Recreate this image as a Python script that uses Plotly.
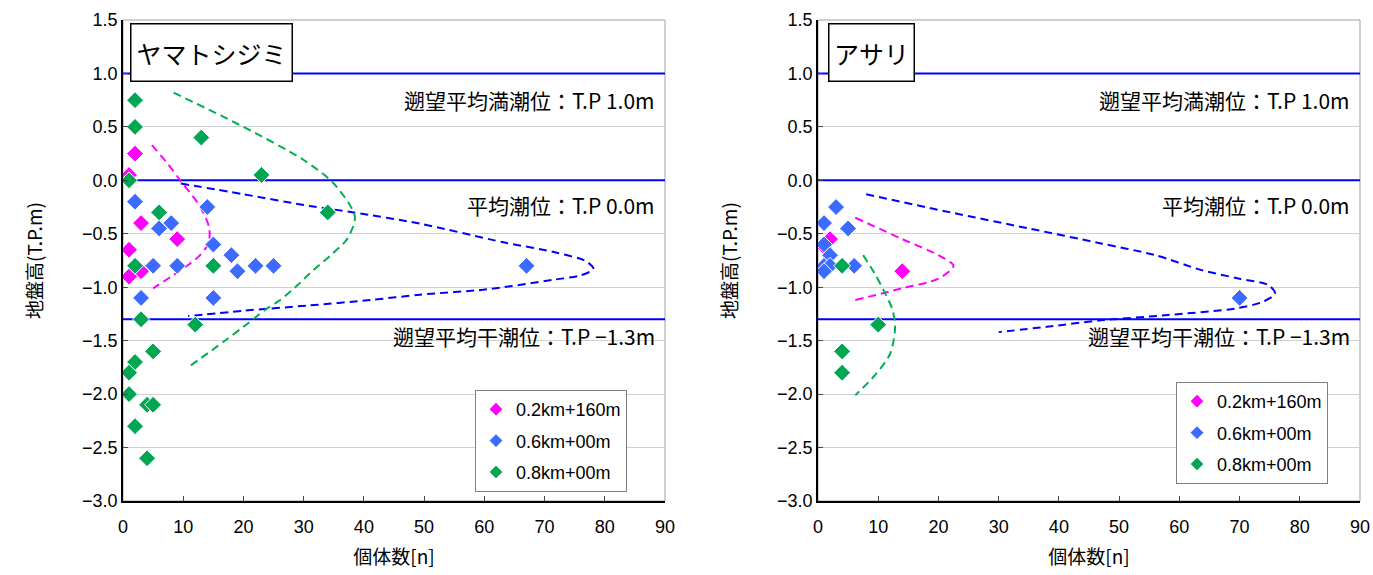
import plotly.graph_objects as go

# ---------------- data ----------------
series_names = ["0.2km+160m", "0.6km+00m", "0.8km+00m"]
panel_titles = ["ヤマトシジミ", "アサリ"]

# Left panel (ヤマトシジミ) observed points: count, elevation
L_mag_x = [2, 1, 3, 9, 1, 3, 1]
L_mag_y = [0.25, 0.05, -0.4, -0.55, -0.65, -0.85, -0.9]
L_blu_x = [2, 14, 6, 8, 15, 18, 5, 9, 19, 22, 25, 67, 3, 15]
L_blu_y = [-0.2, -0.25, -0.45, -0.4, -0.6, -0.7, -0.8, -0.8, -0.85, -0.8, -0.8, -0.8, -1.1, -1.1]
L_grn_x = [2, 2, 13, 23, 1, 6, 34, 2, 15, 3, 12, 5, 2, 1, 1, 4, 5, 2, 4]
L_grn_y = [0.75, 0.5, 0.4, 0.05, 0.0, -0.3, -0.3, -0.8, -0.8, -1.3, -1.35, -1.6, -1.7, -1.8, -2.0, -2.1, -2.1, -2.3, -2.6]

# Left panel fitted curves
L_mag_cx = [4.8, 7.5, 9.5, 12.5, 14.3, 14.2, 12.8, 11.1, 8.0, 5.0]
L_mag_cy = [0.33, 0.15, 0.0, -0.22, -0.44, -0.59, -0.70, -0.78, -0.90, -1.01]
L_blu_cx = [9.6, 20, 31, 38.3, 49.3, 63.2, 71.5, 77, 78.1, 75.9, 71.5, 60.4, 49.3, 41, 31, 20, 10.8]
L_blu_cy = [-0.03, -0.13, -0.24, -0.30, -0.405, -0.58, -0.67, -0.76, -0.83, -0.89, -0.93, -1.02, -1.07, -1.12, -1.17, -1.22, -1.27]
L_grn_cx = [8.4, 20, 30, 35, 38.5, 37.2, 34.5, 31.6, 29, 26.1, 23.9, 20, 16.7, 10.8]
L_grn_cy = [0.82, 0.50, 0.19, -0.03, -0.34, -0.55, -0.70, -0.84, -0.98, -1.12, -1.2, -1.37, -1.51, -1.75]

# Right panel (アサリ) observed points
R_mag_x = [1, 2, 14]
R_mag_y = [-0.62, -0.55, -0.85]
R_blu_x = [3, 1, 5, 1, 2, 1, 2, 1, 6, 70]
R_blu_y = [-0.25, -0.4, -0.45, -0.6, -0.7, -0.8, -0.8, -0.85, -0.8, -1.1]
R_grn_x = [4, 10, 4, 4]
R_grn_y = [-0.8, -1.35, -1.6, -1.8]

# Right panel fitted curves
R_mag_cx = [6.2, 14, 20, 22.5, 20, 14, 6.2]
R_mag_cy = [-0.35, -0.55, -0.70, -0.80, -0.92, -1.01, -1.12]
R_blu_cx = [8, 22, 35, 47, 56, 63.7, 70, 74.8, 75.9, 73.7, 69.2, 58.1, 47, 38, 30]
R_blu_cy = [-0.13, -0.30, -0.45, -0.59, -0.70, -0.84, -0.92, -0.98, -1.06, -1.14, -1.2, -1.26, -1.31, -1.37, -1.42]
R_grn_cx = [7.5, 9.5, 10.9, 12.3, 12.8, 12, 9.5, 6.2]
R_grn_cy = [-0.70, -0.88, -1.03, -1.2, -1.37, -1.62, -1.82, -2.01]

# Reference tide levels
tide_levels = [1.0, 0.0, -1.3]
tide_labels = ["遡望平均満潮位：T.P 1.0m", "平均潮位：T.P 0.0m", "遡望平均干潮位：T.P −1.3m"]

x_range = [0, 90]
y_range = [-3.0, 1.5]

# ---------------- styles ----------------
marker_colors = ["#FF00FF", "#3D6BFF", "#00A651"]
curve_colors = ["#FF00FF", "#0000FF", "#00B050"]
FONT = "Noto Sans CJK JP"

fig = go.Figure()

def add_panel(xa, ya, legend, pts, curves):
    # tide reference lines (drawn first so markers sit on top)
    for lv in tide_levels:
        fig.add_trace(go.Scatter(
            x=x_range, y=[lv, lv], mode="lines", showlegend=False, hoverinfo="skip",
            line=dict(color="#0000FF", width=2), xaxis=xa, yaxis=ya))
    for i, (cx, cy) in enumerate(curves):
        fig.add_trace(go.Scatter(
            x=cx, y=cy, mode="lines", showlegend=False, hoverinfo="skip",
            line=dict(color=curve_colors[i], width=2, dash="8px,5px", shape="spline", smoothing=0.8),
            xaxis=xa, yaxis=ya))
    for i, (px, py) in enumerate(pts):
        fig.add_trace(go.Scatter(
            x=px, y=py, mode="markers", name=series_names[i], legendgroup=f"{legend}{i}",
            marker=dict(symbol="diamond", size=13, color=marker_colors[i],
                        line=dict(color="white", width=1)),
            xaxis=xa, yaxis=ya, legend=legend))

add_panel("x", "y", "legend",
          [(L_mag_x, L_mag_y), (L_blu_x, L_blu_y), (L_grn_x, L_grn_y)],
          [(L_mag_cx, L_mag_cy), (L_blu_cx, L_blu_cy), (L_grn_cx, L_grn_cy)])
add_panel("x2", "y2", "legend2",
          [(R_mag_x, R_mag_y), (R_blu_x, R_blu_y), (R_grn_x, R_grn_y)],
          [(R_mag_cx, R_mag_cy), (R_blu_cx, R_blu_cy), (R_grn_cx, R_grn_cy)])

W, H = 1373, 575
def px_x(p): return p / W
def px_y(p): return (H - p) / H

dom_y = [px_y(501), px_y(20)]
dom_x1 = [px_x(123), px_x(665)]
dom_x2 = [px_x(818), px_x(1360)]

axis_common = dict(showline=True, linecolor="black", linewidth=1.5,
                   ticks="inside", ticklen=5, tickcolor="#444", automargin=False,
                   tickfont=dict(family="Liberation Sans", size=18, color="black"),
                   zeroline=False)

xa = dict(range=x_range, dtick=10, showgrid=False, ticklabelstandoff=9, **axis_common,
          title=dict(text="個体数[n]", font=dict(family=FONT, size=19, color="black"), standoff=14))
ya = dict(range=y_range, dtick=0.5, tickformat=".1f", showgrid=True, gridcolor="#D0D0D0", gridwidth=1,
          **axis_common,
          title=dict(text="地盤高(T.P.m)", font=dict(family=FONT, size=19, color="black"), standoff=34))

shapes = []
annotations = []
for xr, yr in [("x", "y"), ("x2", "y2")]:
    shapes.append(dict(type="rect", xref=f"{xr} domain", yref=f"{yr} domain",
                       x0=0, x1=1, y0=0, y1=1, line=dict(color="#A0A0A0", width=1), layer="below"))

label_y = [0.75, -0.23, -1.46]
for xr, yr in [("x", "y"), ("x2", "y2")]:
    for t, ly in zip(tide_labels, label_y):
        annotations.append(dict(text=t, xref=f"{xr} domain", yref=yr, x=0.985, y=ly,
                                xanchor="right", yanchor="middle", showarrow=False,
                                font=dict(family=FONT, size=21, color="black")))

title_common = dict(yref="paper", y=px_y(23), xanchor="left", yanchor="top", showarrow=False,
                    font=dict(family=FONT, size=25, color="black"), height=48,
                    bordercolor="black", borderwidth=1.5, borderpad=4, bgcolor="white")
annotations.append(dict(text=panel_titles[0], xref="paper", x=px_x(130), width=152, **title_common))
annotations.append(dict(text=panel_titles[1], xref="paper", x=px_x(828), width=76, **title_common))

legend_style = dict(bgcolor="white", bordercolor="#808080", borderwidth=1,
                    font=dict(family="Liberation Sans", size=18, color="black"),
                    xanchor="left", yanchor="top", itemsizing="constant", tracegroupgap=5)

fig.update_layout(
    template="none",
    width=W, height=H, margin=dict(l=0, r=0, t=0, b=0),
    paper_bgcolor="white", plot_bgcolor="white",
    xaxis=dict(domain=dom_x1, anchor="y", **xa),
    yaxis=dict(domain=dom_y, anchor="x", **ya),
    xaxis2=dict(domain=dom_x2, anchor="y2", **xa),
    yaxis2=dict(domain=dom_y, anchor="x2", **ya),
    legend=dict(x=px_x(475), y=px_y(390), **legend_style),
    legend2=dict(x=px_x(1176), y=px_y(382), **legend_style),
    shapes=shapes, annotations=annotations,
)

fig.write_html("out.html", config={"displayModeBar": False},
               post_script="document.body.style.margin='0';")
